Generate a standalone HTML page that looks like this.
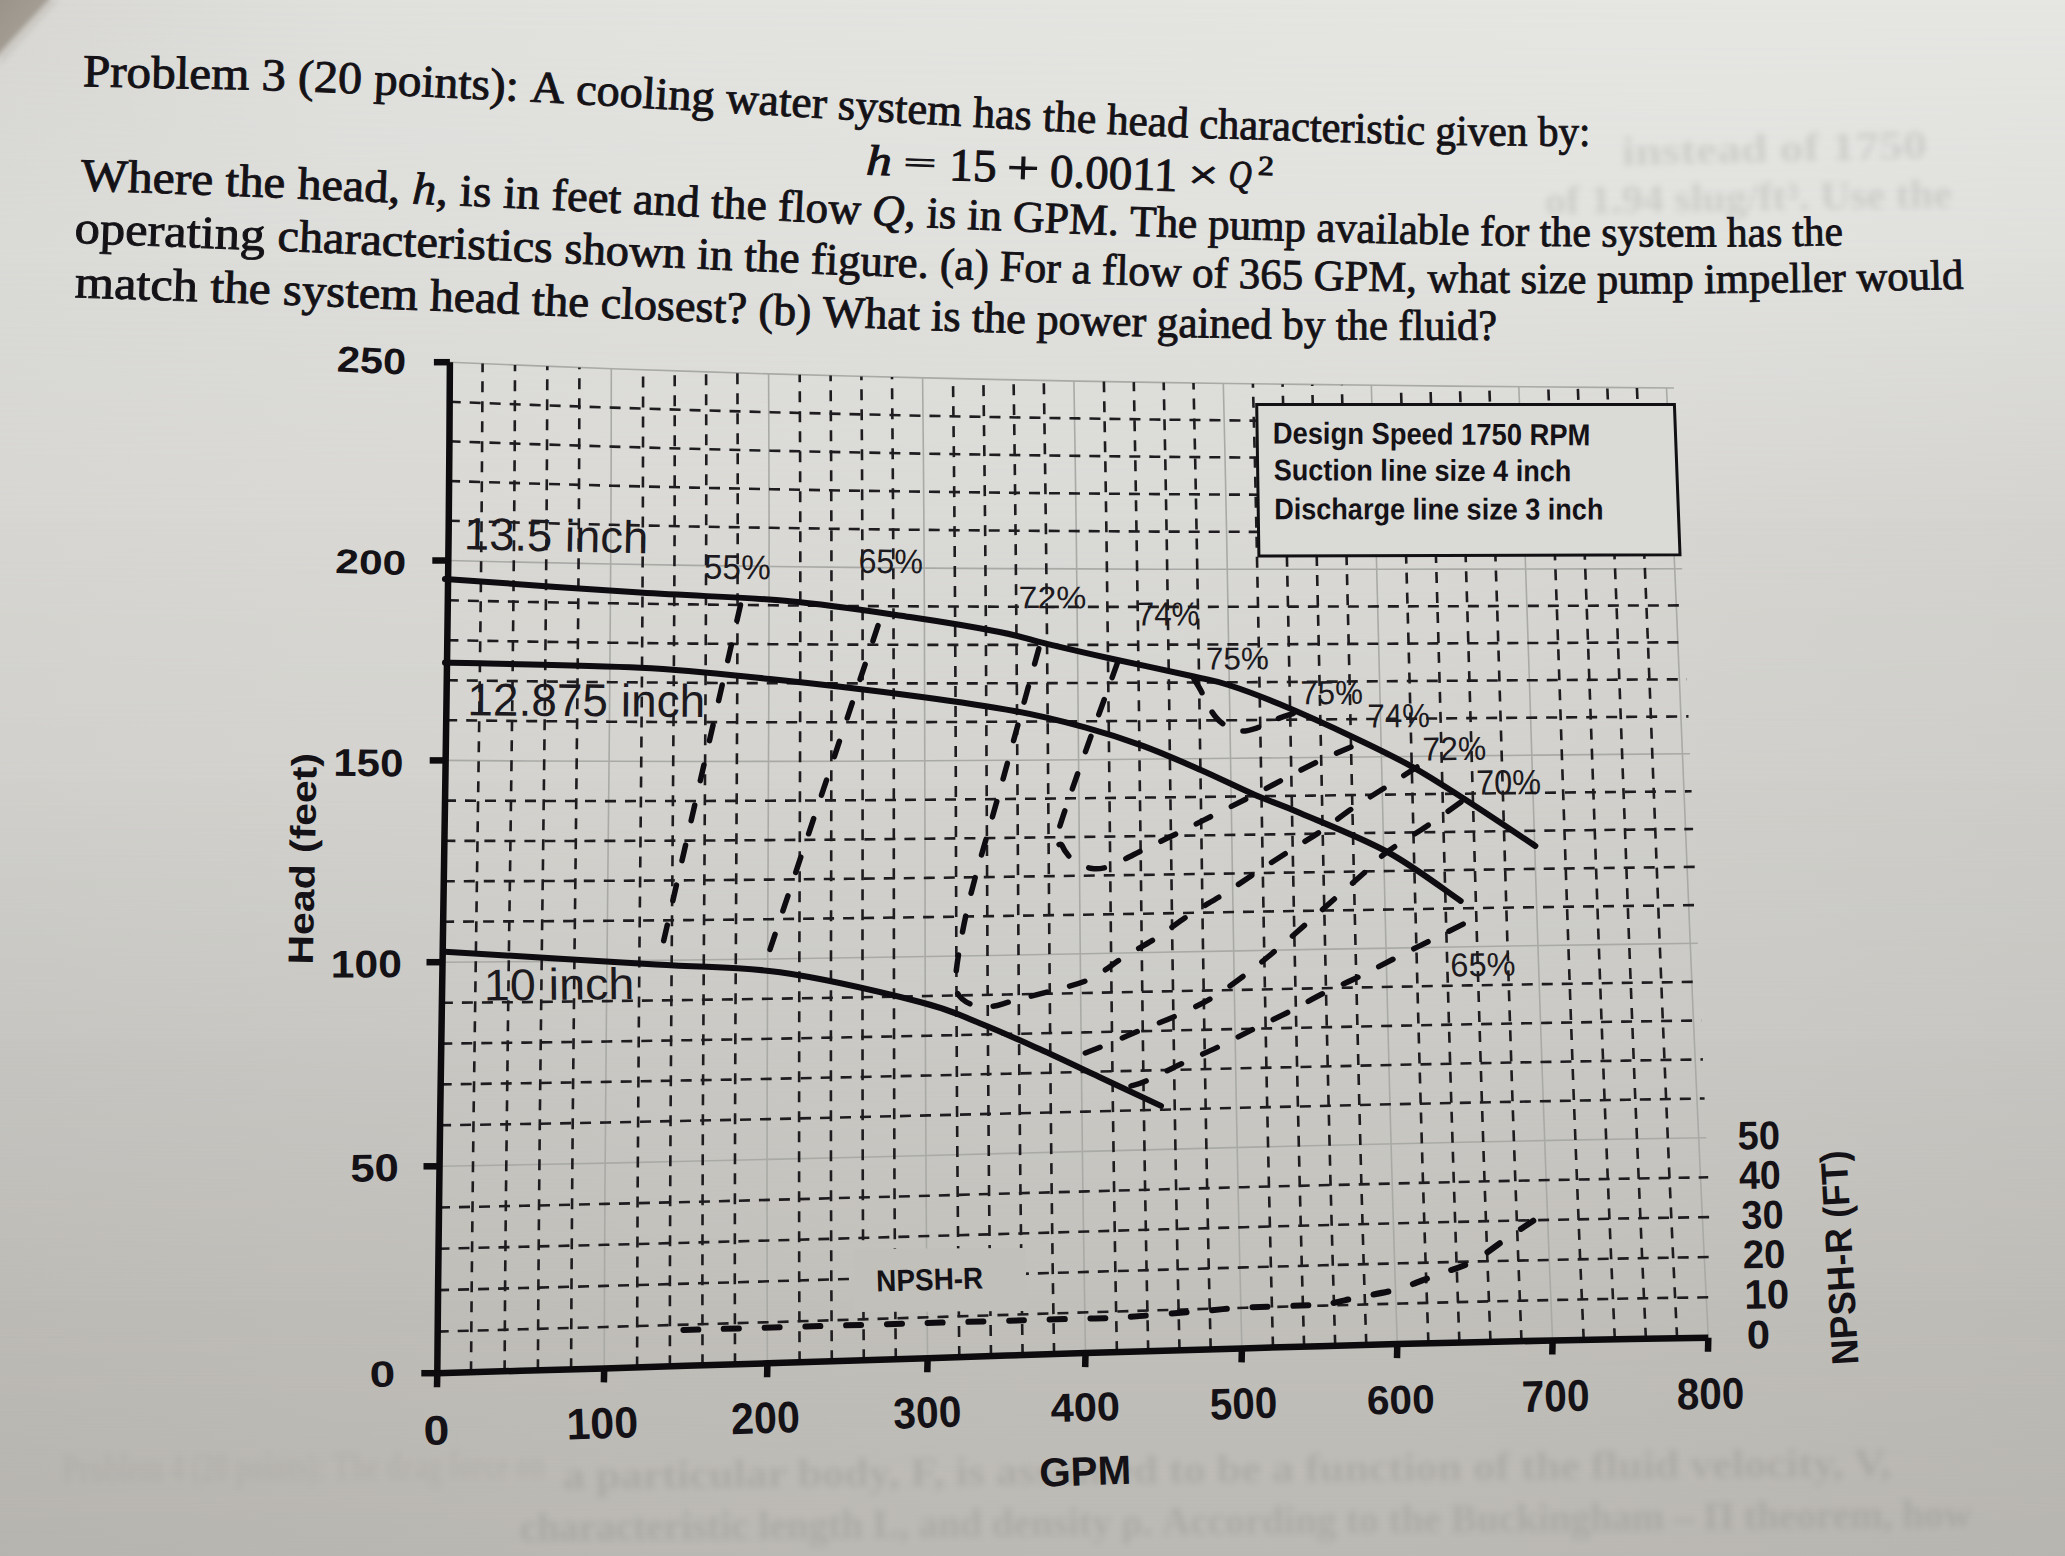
<!DOCTYPE html><html><head><meta charset="utf-8"><style>
html,body{margin:0;padding:0;width:2065px;height:1556px;overflow:hidden;}
body{background:#d8d9d5;position:relative;}
svg{position:absolute;left:0;top:0;}
</style></head><body>
<svg width="2065" height="1556" viewBox="0 0 2065 1556">
<defs>
<linearGradient id="row0" gradientUnits="userSpaceOnUse" x1="0" y1="0" x2="2065" y2="0"><stop offset="0.0000" stop-color="rgb(216,215,211)"/><stop offset="0.1695" stop-color="rgb(224,224,221)"/><stop offset="0.3390" stop-color="rgb(227,227,224)"/><stop offset="0.5085" stop-color="rgb(228,228,225)"/><stop offset="0.6780" stop-color="rgb(229,229,226)"/><stop offset="0.8475" stop-color="rgb(230,230,227)"/><stop offset="1.0000" stop-color="rgb(230,230,227)"/></linearGradient>
<linearGradient id="row1" gradientUnits="userSpaceOnUse" x1="0" y1="0" x2="2065" y2="0"><stop offset="0.0000" stop-color="rgb(218,218,215)"/><stop offset="0.1695" stop-color="rgb(221,221,218)"/><stop offset="0.3390" stop-color="rgb(223,223,220)"/><stop offset="0.5085" stop-color="rgb(224,224,221)"/><stop offset="0.6780" stop-color="rgb(225,225,222)"/><stop offset="0.8475" stop-color="rgb(225,225,222)"/><stop offset="1.0000" stop-color="rgb(223,223,220)"/></linearGradient>
<linearGradient id="row2" gradientUnits="userSpaceOnUse" x1="0" y1="0" x2="2065" y2="0"><stop offset="0.0000" stop-color="rgb(215,214,210)"/><stop offset="0.1695" stop-color="rgb(217,216,212)"/><stop offset="0.3390" stop-color="rgb(218,217,213)"/><stop offset="0.5085" stop-color="rgb(218,218,215)"/><stop offset="0.6780" stop-color="rgb(218,217,213)"/><stop offset="0.8475" stop-color="rgb(214,213,209)"/><stop offset="1.0000" stop-color="rgb(212,211,207)"/></linearGradient>
<linearGradient id="row3" gradientUnits="userSpaceOnUse" x1="0" y1="0" x2="2065" y2="0"><stop offset="0.0000" stop-color="rgb(209,208,204)"/><stop offset="0.1695" stop-color="rgb(211,210,206)"/><stop offset="0.3390" stop-color="rgb(212,211,207)"/><stop offset="0.5085" stop-color="rgb(212,211,207)"/><stop offset="0.6780" stop-color="rgb(211,210,206)"/><stop offset="0.8475" stop-color="rgb(208,207,203)"/><stop offset="1.0000" stop-color="rgb(206,205,201)"/></linearGradient>
<linearGradient id="row4" gradientUnits="userSpaceOnUse" x1="0" y1="0" x2="2065" y2="0"><stop offset="0.0000" stop-color="rgb(198,197,193)"/><stop offset="0.1695" stop-color="rgb(200,199,195)"/><stop offset="0.3390" stop-color="rgb(202,201,197)"/><stop offset="0.5085" stop-color="rgb(203,202,198)"/><stop offset="0.6780" stop-color="rgb(203,202,198)"/><stop offset="0.8475" stop-color="rgb(201,200,196)"/><stop offset="1.0000" stop-color="rgb(199,198,194)"/></linearGradient>
<linearGradient id="row5" gradientUnits="userSpaceOnUse" x1="0" y1="0" x2="2065" y2="0"><stop offset="0.0000" stop-color="rgb(189,187,182)"/><stop offset="0.1695" stop-color="rgb(191,189,184)"/><stop offset="0.3390" stop-color="rgb(193,191,186)"/><stop offset="0.5085" stop-color="rgb(194,192,187)"/><stop offset="0.6780" stop-color="rgb(194,192,187)"/><stop offset="0.8475" stop-color="rgb(192,190,185)"/><stop offset="1.0000" stop-color="rgb(190,188,183)"/></linearGradient>
<linearGradient id="row6" gradientUnits="userSpaceOnUse" x1="0" y1="0" x2="2065" y2="0"><stop offset="0.0000" stop-color="rgb(182,180,175)"/><stop offset="0.1695" stop-color="rgb(184,182,177)"/><stop offset="0.3390" stop-color="rgb(186,184,179)"/><stop offset="0.5085" stop-color="rgb(187,185,180)"/><stop offset="0.6780" stop-color="rgb(187,185,180)"/><stop offset="0.8475" stop-color="rgb(185,183,178)"/><stop offset="1.0000" stop-color="rgb(183,181,176)"/></linearGradient>
<linearGradient id="vmask" x1="0" y1="0" x2="0" y2="1"><stop offset="0" stop-color="#000"/><stop offset="1" stop-color="#fff"/></linearGradient>
<mask id="mk" maskContentUnits="objectBoundingBox"><rect x="0" y="0" width="1" height="1" fill="url(#vmask)"/></mask>
<linearGradient id="corner" x1="0" y1="0" x2="1" y2="1"><stop offset="0" stop-color="#928c83"/><stop offset="0.6" stop-color="#a49e95"/><stop offset="1" stop-color="#b0aaa2"/></linearGradient>
</defs>
<rect x="0" y="0" width="2065" height="261" fill="url(#row0)"/>
<rect x="0" y="0" width="2065" height="261" fill="url(#row1)" mask="url(#mk)"/>
<rect x="0" y="260" width="2065" height="261" fill="url(#row1)"/>
<rect x="0" y="260" width="2065" height="261" fill="url(#row2)" mask="url(#mk)"/>
<rect x="0" y="520" width="2065" height="261" fill="url(#row2)"/>
<rect x="0" y="520" width="2065" height="261" fill="url(#row3)" mask="url(#mk)"/>
<rect x="0" y="780" width="2065" height="261" fill="url(#row3)"/>
<rect x="0" y="780" width="2065" height="261" fill="url(#row4)" mask="url(#mk)"/>
<rect x="0" y="1040" width="2065" height="261" fill="url(#row4)"/>
<rect x="0" y="1040" width="2065" height="261" fill="url(#row5)" mask="url(#mk)"/>
<rect x="0" y="1300" width="2065" height="257" fill="url(#row5)"/>
<rect x="0" y="1300" width="2065" height="257" fill="url(#row6)" mask="url(#mk)"/>
<filter id="cblur" x="-50%" y="-50%" width="200%" height="200%"><feGaussianBlur stdDeviation="2.5"/></filter>
<polygon points="-20,-20 50,-20 50,0 0,54 -20,74" fill="url(#corner)" filter="url(#cblur)"/>
<polygon points="48,0 60,0 0,66 0,53" fill="#c2bdb6" opacity="0.45" filter="url(#cblur)"/>
<defs><filter id="blr" x="-5%" y="-50%" width="110%" height="200%"><feGaussianBlur stdDeviation="3"/></filter></defs>
<g opacity="0.16" filter="url(#blr)" font-weight="bold">
<text font-family="Liberation Serif, serif" font-size="40" font-weight="bold" fill="#5d5e5a"  transform="translate(1622.0,165.0) rotate(-1.315)" textLength="305.1" lengthAdjust="spacingAndGlyphs">instead of 1750</text>
<text font-family="Liberation Serif, serif" font-size="40" font-weight="bold" fill="#5d5e5a"  transform="translate(1545.0,214.0) rotate(-0.985)" textLength="407.1" lengthAdjust="spacingAndGlyphs">of 1.94 slug/ft³. Use the</text>
</g>
<g opacity="0.08" filter="url(#blr)">
<text font-family="Liberation Serif, serif" font-size="40" font-weight="bold" fill="#5d5e5a"  transform="translate(62.0,1482.0) rotate(-0.474)" textLength="483.0" lengthAdjust="spacingAndGlyphs">Problem 4 (20 points): The drag force on</text>
</g>
<g opacity="0.16" filter="url(#blr)">
<text font-family="Liberation Serif, serif" font-size="40" font-weight="bold" fill="#5d5e5a"  transform="translate(563.0,1489.0) rotate(-0.561)" textLength="1328.1" lengthAdjust="spacingAndGlyphs">a particular body, F, is assumed to be a function of the fluid velocity, V,</text>
<text font-family="Liberation Serif, serif" font-size="40" font-weight="bold" fill="#5d5e5a"  transform="translate(520.0,1541.0) rotate(-0.552)" textLength="1452.1" lengthAdjust="spacingAndGlyphs">characteristic length L, and density ρ. According to the Buckingham – Π theorem, how</text>
</g>
<g>
<text font-family="Liberation Serif, serif" font-size="45.0" fill="#141216" stroke="#141216" stroke-width="0.9" transform="translate(82.7,86.3) rotate(1.14) scale(1.0914,1.0209)">Problem</text>
<text font-family="Liberation Serif, serif" font-size="45.0" fill="#141216" stroke="#141216" stroke-width="0.9" transform="translate(261.2,90.0) rotate(1.85) scale(1.0768,1.0119)">3</text>
<text font-family="Liberation Serif, serif" font-size="45.0" fill="#141216" stroke="#141216" stroke-width="0.9" transform="translate(297.5,91.2) rotate(2.17) scale(1.0691,1.0101)">(20</text>
<text font-family="Liberation Serif, serif" font-size="45.0" fill="#141216" stroke="#141216" stroke-width="0.9" transform="translate(373.6,94.1) rotate(2.69) scale(1.0535,1.0063)">points):</text>
<text font-family="Liberation Serif, serif" font-size="45.0" fill="#141216" stroke="#141216" stroke-width="0.9" transform="translate(530.0,101.5) rotate(3.04) scale(1.0402,0.9985)">A</text>
<text font-family="Liberation Serif, serif" font-size="45.0" fill="#141216" stroke="#141216" stroke-width="0.9" transform="translate(575.4,103.9) rotate(3.24) scale(1.0273,0.9962)">cooling</text>
<text font-family="Liberation Serif, serif" font-size="45.0" fill="#141216" stroke="#141216" stroke-width="0.9" transform="translate(725.3,112.4) rotate(3.36) scale(1.0102,0.9887)">water</text>
<text font-family="Liberation Serif, serif" font-size="45.0" fill="#141216" stroke="#141216" stroke-width="0.9" transform="translate(837.3,119.0) rotate(3.28) scale(0.9942,0.9831)">system</text>
<text font-family="Liberation Serif, serif" font-size="45.0" fill="#141216" stroke="#141216" stroke-width="0.9" transform="translate(972.4,126.7) rotate(3.09) scale(0.9811,0.9764)">has</text>
<text font-family="Liberation Serif, serif" font-size="45.0" fill="#141216" stroke="#141216" stroke-width="0.9" transform="translate(1042.2,130.5) rotate(2.90) scale(0.9726,0.9729)">the</text>
<text font-family="Liberation Serif, serif" font-size="45.0" fill="#141216" stroke="#141216" stroke-width="0.9" transform="translate(1106.4,133.7) rotate(2.60) scale(0.9628,0.9697)">head</text>
<text font-family="Liberation Serif, serif" font-size="45.0" fill="#141216" stroke="#141216" stroke-width="0.9" transform="translate(1198.9,137.8) rotate(1.73) scale(0.9427,0.9651)">characteristic</text>
<text font-family="Liberation Serif, serif" font-size="45.0" fill="#141216" stroke="#141216" stroke-width="0.9" transform="translate(1435.3,144.9) rotate(0.55) scale(0.9230,0.9532)">given</text>
<text font-family="Liberation Serif, serif" font-size="45.0" fill="#141216" stroke="#141216" stroke-width="0.9" transform="translate(1537.9,145.8) rotate(-0.15) scale(0.9139,0.9481)">by:</text>
<text font-family="Liberation Serif, serif" font-size="45.0" fill="#141216" stroke="#141216" stroke-width="0.9" transform="translate(80.6,190.3) rotate(2.05) scale(1.1034,1.0210)">Where</text>
<text font-family="Liberation Serif, serif" font-size="45.0" fill="#141216" stroke="#141216" stroke-width="0.9" transform="translate(225.1,195.5) rotate(2.30) scale(1.0861,1.0137)">the</text>
<text font-family="Liberation Serif, serif" font-size="45.0" fill="#141216" stroke="#141216" stroke-width="0.9" transform="translate(296.9,198.4) rotate(2.48) scale(1.0715,1.0102)">head,</text>
<text font-family="Liberation Serif, serif" font-size="45.0" font-style="italic" fill="#141216" stroke="#141216" stroke-width="0.9" transform="translate(411.8,203.4) rotate(2.58) scale(1.0601,1.0044)">h</text>
<text font-family="Liberation Serif, serif" font-size="45.0" fill="#141216" stroke="#141216" stroke-width="0.9" transform="translate(435.6,204.4) rotate(2.60) scale(1.0574,1.0032)">,</text>
<text font-family="Liberation Serif, serif" font-size="45.0" fill="#141216" stroke="#141216" stroke-width="0.9" transform="translate(459.3,205.5) rotate(2.64) scale(1.0524,1.0020)">is</text>
<text font-family="Liberation Serif, serif" font-size="45.0" fill="#141216" stroke="#141216" stroke-width="0.9" transform="translate(502.7,207.5) rotate(2.67) scale(1.0457,0.9999)">in</text>
<text font-family="Liberation Serif, serif" font-size="45.0" fill="#141216" stroke="#141216" stroke-width="0.9" transform="translate(551.0,209.8) rotate(2.71) scale(1.0364,0.9975)">feet</text>
<text font-family="Liberation Serif, serif" font-size="45.0" fill="#141216" stroke="#141216" stroke-width="0.9" transform="translate(632.4,213.6) rotate(2.72) scale(1.0253,0.9934)">and</text>
<text font-family="Liberation Serif, serif" font-size="45.0" fill="#141216" stroke="#141216" stroke-width="0.9" transform="translate(710.4,217.3) rotate(2.70) scale(1.0155,0.9895)">the</text>
<text font-family="Liberation Serif, serif" font-size="45.0" fill="#141216" stroke="#141216" stroke-width="0.9" transform="translate(777.5,220.5) rotate(2.64) scale(1.0050,0.9861)">flow</text>
<text font-family="Liberation Serif, serif" font-size="45.0" font-style="italic" fill="#141216" stroke="#141216" stroke-width="0.9" transform="translate(871.5,224.8) rotate(2.57) scale(0.9963,0.9814)">Q</text>
<text font-family="Liberation Serif, serif" font-size="45.0" fill="#141216" stroke="#141216" stroke-width="0.9" transform="translate(903.9,226.3) rotate(2.54) scale(0.9937,0.9798)">,</text>
<text font-family="Liberation Serif, serif" font-size="45.0" fill="#141216" stroke="#141216" stroke-width="0.9" transform="translate(926.2,227.3) rotate(2.50) scale(0.9899,0.9787)">is</text>
<text font-family="Liberation Serif, serif" font-size="45.0" fill="#141216" stroke="#141216" stroke-width="0.9" transform="translate(967.0,229.0) rotate(2.43) scale(0.9848,0.9767)">in</text>
<text font-family="Liberation Serif, serif" font-size="45.0" fill="#141216" stroke="#141216" stroke-width="0.9" transform="translate(1012.4,231.0) rotate(2.27) scale(0.9755,0.9744)">GPM.</text>
<text font-family="Liberation Serif, serif" font-size="45.0" fill="#141216" stroke="#141216" stroke-width="0.9" transform="translate(1129.4,235.6) rotate(2.03) scale(0.9651,0.9685)">The</text>
<text font-family="Liberation Serif, serif" font-size="45.0" fill="#141216" stroke="#141216" stroke-width="0.9" transform="translate(1207.7,238.3) rotate(1.75) scale(0.9558,0.9646)">pump</text>
<text font-family="Liberation Serif, serif" font-size="45.0" fill="#141216" stroke="#141216" stroke-width="0.9" transform="translate(1316.3,241.6) rotate(1.27) scale(0.9436,0.9592)">available</text>
<text font-family="Liberation Serif, serif" font-size="45.0" fill="#141216" stroke="#141216" stroke-width="0.9" transform="translate(1480.0,245.2) rotate(0.80) scale(0.9348,0.9510)">for</text>
<text font-family="Liberation Serif, serif" font-size="45.0" fill="#141216" stroke="#141216" stroke-width="0.9" transform="translate(1539.6,246.0) rotate(0.52) scale(0.9305,0.9480)">the</text>
<text font-family="Liberation Serif, serif" font-size="45.0" fill="#141216" stroke="#141216" stroke-width="0.9" transform="translate(1601.2,246.5) rotate(0.04) scale(0.9246,0.9449)">system</text>
<text font-family="Liberation Serif, serif" font-size="45.0" fill="#141216" stroke="#141216" stroke-width="0.9" transform="translate(1727.1,246.6) rotate(-0.48) scale(0.9195,0.9386)">has</text>
<text font-family="Liberation Serif, serif" font-size="45.0" fill="#141216" stroke="#141216" stroke-width="0.9" transform="translate(1792.6,246.0) rotate(-0.86) scale(0.9167,0.9354)">the</text>
<text font-family="Liberation Serif, serif" font-size="45.0" fill="#141216" stroke="#141216" stroke-width="0.9" transform="translate(74.2,242.8) rotate(2.21) scale(1.1218,1.0213)">operating</text>
<text font-family="Liberation Serif, serif" font-size="45.0" fill="#141216" stroke="#141216" stroke-width="0.9" transform="translate(277.1,250.6) rotate(2.45) scale(1.0707,1.0111)">characteristics</text>
<text font-family="Liberation Serif, serif" font-size="45.0" fill="#141216" stroke="#141216" stroke-width="0.9" transform="translate(564.1,262.9) rotate(2.47) scale(1.0321,0.9968)">shown</text>
<text font-family="Liberation Serif, serif" font-size="45.0" fill="#141216" stroke="#141216" stroke-width="0.9" transform="translate(696.7,268.6) rotate(2.42) scale(1.0173,0.9902)">in</text>
<text font-family="Liberation Serif, serif" font-size="45.0" fill="#141216" stroke="#141216" stroke-width="0.9" transform="translate(743.7,270.6) rotate(2.37) scale(1.0086,0.9878)">the</text>
<text font-family="Liberation Serif, serif" font-size="45.0" fill="#141216" stroke="#141216" stroke-width="0.9" transform="translate(810.4,273.4) rotate(2.25) scale(0.9946,0.9845)">figure.</text>
<text font-family="Liberation Serif, serif" font-size="45.0" fill="#141216" stroke="#141216" stroke-width="0.9" transform="translate(939.4,278.4) rotate(2.11) scale(0.9825,0.9780)">(a)</text>
<text font-family="Liberation Serif, serif" font-size="45.0" fill="#141216" stroke="#141216" stroke-width="0.9" transform="translate(999.5,280.6) rotate(1.98) scale(0.9749,0.9750)">For</text>
<text font-family="Liberation Serif, serif" font-size="45.0" fill="#141216" stroke="#141216" stroke-width="0.9" transform="translate(1071.3,283.1) rotate(1.87) scale(0.9696,0.9714)">a</text>
<text font-family="Liberation Serif, serif" font-size="45.0" fill="#141216" stroke="#141216" stroke-width="0.9" transform="translate(1101.6,284.1) rotate(1.73) scale(0.9638,0.9699)">flow</text>
<text font-family="Liberation Serif, serif" font-size="45.0" fill="#141216" stroke="#141216" stroke-width="0.9" transform="translate(1191.8,286.8) rotate(1.54) scale(0.9581,0.9654)">of</text>
<text font-family="Liberation Serif, serif" font-size="45.0" fill="#141216" stroke="#141216" stroke-width="0.9" transform="translate(1238.5,288.0) rotate(1.37) scale(0.9537,0.9631)">365</text>
<text font-family="Liberation Serif, serif" font-size="45.0" fill="#141216" stroke="#141216" stroke-width="0.9" transform="translate(1313.5,289.8) rotate(1.06) scale(0.9483,0.9593)">GPM,</text>
<text font-family="Liberation Serif, serif" font-size="45.0" fill="#141216" stroke="#141216" stroke-width="0.9" transform="translate(1427.3,291.9) rotate(0.68) scale(0.9443,0.9536)">what</text>
<text font-family="Liberation Serif, serif" font-size="45.0" fill="#141216" stroke="#141216" stroke-width="0.9" transform="translate(1520.5,292.9) rotate(0.34) scale(0.9426,0.9490)">size</text>
<text font-family="Liberation Serif, serif" font-size="45.0" fill="#141216" stroke="#141216" stroke-width="0.9" transform="translate(1597.1,293.4) rotate(-0.07) scale(0.9425,0.9451)">pump</text>
<text font-family="Liberation Serif, serif" font-size="45.0" fill="#141216" stroke="#141216" stroke-width="0.9" transform="translate(1704.3,293.2) rotate(-0.70) scale(0.9451,0.9398)">impeller</text>
<text font-family="Liberation Serif, serif" font-size="45.0" fill="#141216" stroke="#141216" stroke-width="0.9" transform="translate(1856.7,291.3) rotate(-1.43) scale(0.9513,0.9322)">would</text>
<text font-family="Liberation Serif, serif" font-size="45.0" fill="#141216" stroke="#141216" stroke-width="0.9" transform="translate(74.5,297.2) rotate(1.91) scale(1.1189,1.0213)">match</text>
<text font-family="Liberation Serif, serif" font-size="45.0" fill="#141216" stroke="#141216" stroke-width="0.9" transform="translate(209.9,301.7) rotate(2.13) scale(1.0997,1.0145)">the</text>
<text font-family="Liberation Serif, serif" font-size="45.0" fill="#141216" stroke="#141216" stroke-width="0.9" transform="translate(282.6,304.5) rotate(2.29) scale(1.0802,1.0109)">system</text>
<text font-family="Liberation Serif, serif" font-size="45.0" fill="#141216" stroke="#141216" stroke-width="0.9" transform="translate(429.5,310.3) rotate(2.38) scale(1.0590,1.0035)">head</text>
<text font-family="Liberation Serif, serif" font-size="45.0" fill="#141216" stroke="#141216" stroke-width="0.9" transform="translate(531.2,314.6) rotate(2.39) scale(1.0450,0.9984)">the</text>
<text font-family="Liberation Serif, serif" font-size="45.0" fill="#141216" stroke="#141216" stroke-width="0.9" transform="translate(600.2,317.4) rotate(2.33) scale(1.0274,0.9950)">closest?</text>
<text font-family="Liberation Serif, serif" font-size="45.0" fill="#141216" stroke="#141216" stroke-width="0.9" transform="translate(757.9,323.9) rotate(2.21) scale(1.0111,0.9871)">(b)</text>
<text font-family="Liberation Serif, serif" font-size="45.0" fill="#141216" stroke="#141216" stroke-width="0.9" transform="translate(822.2,326.3) rotate(2.06) scale(0.9991,0.9839)">What</text>
<text font-family="Liberation Serif, serif" font-size="45.0" fill="#141216" stroke="#141216" stroke-width="0.9" transform="translate(930.7,330.2) rotate(1.90) scale(0.9894,0.9785)">is</text>
<text font-family="Liberation Serif, serif" font-size="45.0" fill="#141216" stroke="#141216" stroke-width="0.9" transform="translate(971.4,331.6) rotate(1.77) scale(0.9828,0.9764)">the</text>
<text font-family="Liberation Serif, serif" font-size="45.0" fill="#141216" stroke="#141216" stroke-width="0.9" transform="translate(1036.5,333.5) rotate(1.49) scale(0.9720,0.9732)">power</text>
<text font-family="Liberation Serif, serif" font-size="45.0" fill="#141216" stroke="#141216" stroke-width="0.9" transform="translate(1156.6,336.6) rotate(1.04) scale(0.9591,0.9672)">gained</text>
<text font-family="Liberation Serif, serif" font-size="45.0" fill="#141216" stroke="#141216" stroke-width="0.9" transform="translate(1282.3,338.8) rotate(0.66) scale(0.9508,0.9609)">by</text>
<text font-family="Liberation Serif, serif" font-size="45.0" fill="#141216" stroke="#141216" stroke-width="0.9" transform="translate(1335.8,339.4) rotate(0.38) scale(0.9459,0.9582)">the</text>
<text font-family="Liberation Serif, serif" font-size="45.0" fill="#141216" stroke="#141216" stroke-width="0.9" transform="translate(1398.4,339.8) rotate(-0.06) scale(0.9396,0.9551)">fluid?</text>
<text font-family="Liberation Serif, serif" font-size="42.88" font-style="italic" fill="#141216" stroke="#141216" stroke-width="1.0" transform="translate(865.8,174.6) rotate(2.0) scale(1.1963,1)">h</text>
<text font-family="Liberation Serif, serif" font-size="28.13" fill="#141216" stroke="#141216" stroke-width="1.0" transform="translate(903.6,171.4) rotate(2.0) scale(2.0334,1)">=</text>
<text font-family="Liberation Serif, serif" font-size="46.06" fill="#141216" stroke="#141216" stroke-width="1.0" transform="translate(948.8,180.0) rotate(2.0) scale(1.0322,1)">15</text>
<text font-family="Liberation Serif, serif" font-size="47.08" fill="#141216" stroke="#141216" stroke-width="1.0" transform="translate(1006.4,183.1) rotate(2.0) scale(1.2151,1)">+</text>
<text font-family="Liberation Serif, serif" font-size="46.92" fill="#141216" stroke="#141216" stroke-width="1.0" transform="translate(1049.6,186.5) rotate(2.0) scale(1.0017,1)">0.0011</text>
<text font-family="Liberation Serif, serif" font-size="40.75" fill="#141216" stroke="#141216" stroke-width="1.0" transform="translate(1187.7,188.0) rotate(2.0) scale(1.3149,1)">×</text>
<text font-family="Liberation Serif, serif" font-size="38.64" font-style="italic" fill="#141216" stroke="#141216" stroke-width="1.0" transform="translate(1228.2,186.8) rotate(2.0) scale(0.8243,1)">Q</text>
<text font-family="Liberation Serif, serif" font-size="27.58" fill="#141216" stroke="#141216" stroke-width="1.0" transform="translate(1257.7,174.7) rotate(2.0) scale(1.1514,1)">2</text>
</g>
<g fill="none">
<polyline points="604.2,1368.4 604.5,1282.5 604.9,1197.1 605.6,1112.3 606.3,1028.0 607.2,944.2 608.0,860.8 608.9,777.9 609.7,695.3 610.3,613.2 610.9,531.3 611.2,449.8 611.3,368.7" stroke="#a9aaa6" stroke-width="1.6"/>
<polyline points="767.4,1363.3 767.1,1277.9 767.0,1193.2 767.1,1109.1 767.4,1025.5 767.7,942.4 768.1,859.9 768.4,777.8 768.8,696.2 769.0,615.0 769.1,534.2 768.9,453.9 768.6,373.8" stroke="#a9aaa6" stroke-width="1.6"/>
<polyline points="927.6,1358.2 926.7,1273.3 926.1,1189.0 925.7,1105.5 925.3,1022.5 925.1,940.1 925.0,858.3 924.8,777.0 924.6,696.3 924.4,616.0 924.0,536.2 923.4,456.8 922.6,377.9" stroke="#a9aaa6" stroke-width="1.6"/>
<polyline points="1085.5,1353.1 1084.1,1268.6 1082.8,1184.8 1081.8,1101.7 1080.9,1019.3 1080.1,937.5 1079.4,856.4 1078.7,775.8 1078.0,695.8 1077.2,616.3 1076.3,537.4 1075.2,459.0 1073.9,381.0" stroke="#a9aaa6" stroke-width="1.6"/>
<polyline points="1241.9,1348.4 1239.8,1264.2 1237.9,1180.7 1236.2,1098.0 1234.8,1016.0 1233.4,934.8 1232.1,854.2 1230.8,774.2 1229.5,694.9 1228.1,616.2 1226.7,538.1 1225.1,460.5 1223.3,383.4" stroke="#a9aaa6" stroke-width="1.6"/>
<polyline points="1397.3,1344.1 1394.5,1260.1 1392.0,1176.9 1389.7,1094.5 1387.6,1012.9 1385.6,932.1 1383.7,851.9 1381.8,772.5 1379.9,693.8 1377.9,615.7 1375.9,538.3 1373.7,461.5 1371.3,385.2" stroke="#a9aaa6" stroke-width="1.6"/>
<polyline points="1552.6,1340.5 1549.1,1256.6 1545.9,1173.5 1542.9,1091.4 1540.1,1010.1 1537.4,929.6 1534.8,849.8 1532.3,770.9 1529.8,692.7 1527.2,615.2 1524.6,538.4 1521.8,462.2 1518.8,386.7" stroke="#a9aaa6" stroke-width="1.6"/>
<polyline points="1708.3,1337.7 1704.1,1253.8 1700.2,1170.9 1696.5,1088.8 1692.9,1007.7 1689.6,927.5 1686.3,848.0 1683.1,769.5 1679.9,691.7 1676.7,614.6 1673.4,538.4 1670.0,462.8 1666.5,387.9" stroke="#a9aaa6" stroke-width="1.6"/>
<polyline points="439.5,1166.3 523.4,1164.8 606.2,1163.1 688.1,1161.3 769.1,1159.4 849.3,1157.5 928.9,1155.5 1007.8,1153.4 1086.3,1151.4 1164.3,1149.4 1242.0,1147.4 1319.5,1145.5 1396.8,1143.7 1474.1,1142.0 1551.4,1140.4 1628.8,1139.0 1706.4,1137.8" stroke="#a9aaa6" stroke-width="1.6"/>
<polyline points="442.5,962.2 525.8,961.6 608.0,960.9 689.3,960.0 769.6,959.0 849.2,957.8 928.1,956.5 1006.4,955.2 1084.1,953.7 1161.5,952.3 1238.4,950.9 1315.1,949.4 1391.7,948.1 1468.1,946.7 1544.6,945.5 1621.1,944.4 1697.9,943.3" stroke="#a9aaa6" stroke-width="1.6"/>
<polyline points="445.7,760.4 528.4,761.0 610.0,761.3 690.7,761.5 770.5,761.4 849.5,761.2 927.7,760.8 1005.3,760.3 1082.4,759.7 1159.0,759.0 1235.3,758.3 1311.2,757.5 1387.0,756.7 1462.7,755.9 1538.4,755.1 1614.1,754.4 1690.0,753.8" stroke="#a9aaa6" stroke-width="1.6"/>
<polyline points="448.3,560.5 530.5,562.4 611.7,564.0 691.8,565.4 771.0,566.5 849.4,567.4 927.0,568.1 1004.0,568.6 1080.4,568.9 1156.4,569.2 1232.0,569.3 1307.2,569.3 1382.3,569.2 1457.3,569.1 1532.2,569.0 1607.1,568.9 1682.2,568.8" stroke="#a9aaa6" stroke-width="1.6"/>
<polyline points="449.9,362.2 531.7,365.6 612.3,368.7 691.9,371.4 770.6,373.9 848.4,376.0 925.4,377.9 1001.8,379.6 1077.7,381.1 1153.0,382.4 1227.9,383.5 1302.5,384.4 1376.9,385.3 1451.1,386.1 1525.3,386.7 1599.5,387.4 1673.9,388.0" stroke="#a9aaa6" stroke-width="1.6"/>
<polyline points="471.0,1372.2 471.7,1285.8 472.6,1200.0 473.6,1114.6 474.8,1029.6 476.0,945.1 477.2,861.0 478.4,777.3 479.6,694.0 480.6,610.9 481.5,528.2 482.1,445.8 482.6,363.6" stroke="#1e1c1f" stroke-width="2.6" stroke-dasharray="11 9"/>
<polyline points="504.6,1371.3 505.1,1285.0 505.9,1199.3 506.9,1114.0 507.9,1029.3 509.0,944.9 510.2,861.0 511.3,777.5 512.4,694.4 513.3,611.6 514.1,529.1 514.7,446.9 515.0,365.0" stroke="#1e1c1f" stroke-width="2.6" stroke-dasharray="11 9"/>
<polyline points="537.9,1370.3 538.4,1284.2 539.1,1198.6 539.9,1113.5 540.9,1028.9 541.9,944.7 543.0,861.0 544.0,777.7 545.0,694.7 545.8,612.1 546.5,529.9 547.0,447.9 547.3,366.2" stroke="#1e1c1f" stroke-width="2.6" stroke-dasharray="11 9"/>
<polyline points="571.1,1369.3 571.5,1283.3 572.1,1197.9 572.8,1112.9 573.7,1028.5 574.6,944.5 575.6,860.9 576.5,777.8 577.4,695.0 578.2,612.7 578.8,530.6 579.2,448.9 579.4,367.5" stroke="#1e1c1f" stroke-width="2.6" stroke-dasharray="11 9"/>
<polyline points="637.1,1367.4 637.3,1281.6 637.6,1196.4 638.2,1111.7 638.8,1027.6 639.5,943.9 640.3,860.7 641.1,777.9 641.8,695.6 642.4,613.6 642.8,532.0 643.0,450.7 643.1,369.8" stroke="#1e1c1f" stroke-width="2.6" stroke-dasharray="11 9"/>
<polyline points="669.9,1366.3 669.9,1280.7 670.2,1195.6 670.6,1111.1 671.2,1027.1 671.8,943.6 672.5,860.5 673.1,777.9 673.7,695.8 674.2,614.0 674.6,532.6 674.7,451.6 674.7,370.9" stroke="#1e1c1f" stroke-width="2.6" stroke-dasharray="11 9"/>
<polyline points="702.5,1365.3 702.4,1279.8 702.6,1194.8 702.9,1110.4 703.4,1026.5 703.9,943.2 704.5,860.3 705.0,777.9 705.5,695.9 705.9,614.4 706.2,533.2 706.3,452.4 706.1,371.9" stroke="#1e1c1f" stroke-width="2.6" stroke-dasharray="11 9"/>
<polyline points="735.0,1364.3 734.8,1278.9 734.9,1194.0 735.1,1109.7 735.4,1026.0 735.9,942.8 736.3,860.1 736.8,777.9 737.2,696.1 737.5,614.7 737.7,533.7 737.7,453.1 737.4,372.9" stroke="#1e1c1f" stroke-width="2.6" stroke-dasharray="11 9"/>
<polyline points="799.6,1362.3 799.2,1277.0 799.1,1192.4 799.1,1108.4 799.2,1024.9 799.4,942.0 799.7,859.6 800.0,777.7 800.2,696.3 800.3,615.3 800.3,534.7 800.1,454.5 799.7,374.7" stroke="#1e1c1f" stroke-width="2.6" stroke-dasharray="11 9"/>
<polyline points="831.8,1361.2 831.3,1276.1 831.0,1191.6 830.9,1107.7 830.9,1024.3 831.0,941.5 831.2,859.3 831.3,777.6 831.5,696.3 831.5,615.5 831.4,535.1 831.1,455.2 830.6,375.6" stroke="#1e1c1f" stroke-width="2.6" stroke-dasharray="11 9"/>
<polyline points="863.8,1360.2 863.2,1275.1 862.8,1190.7 862.6,1106.9 862.5,1023.7 862.5,941.1 862.6,859.0 862.6,777.4 862.6,696.3 862.6,615.7 862.3,535.5 862.0,455.8 861.4,376.4" stroke="#1e1c1f" stroke-width="2.6" stroke-dasharray="11 9"/>
<polyline points="895.8,1359.2 895.0,1274.2 894.5,1189.9 894.2,1106.2 894.0,1023.1 893.9,940.6 893.8,858.7 893.8,777.2 893.7,696.3 893.5,615.9 893.2,535.9 892.7,456.3 892.0,377.1" stroke="#1e1c1f" stroke-width="2.6" stroke-dasharray="11 9"/>
<polyline points="959.3,1357.1 958.4,1272.3 957.6,1188.2 957.0,1104.7 956.6,1021.9 956.3,939.6 956.0,857.9 955.8,776.8 955.5,696.2 955.1,616.1 954.6,536.5 953.9,457.3 953.0,378.6" stroke="#1e1c1f" stroke-width="2.6" stroke-dasharray="11 9"/>
<polyline points="991.0,1356.1 989.9,1271.4 989.0,1187.4 988.4,1104.0 987.8,1021.2 987.4,939.1 987.0,857.6 986.6,776.6 986.2,696.1 985.8,616.2 985.2,536.8 984.4,457.8 983.4,379.2" stroke="#1e1c1f" stroke-width="2.6" stroke-dasharray="11 9"/>
<polyline points="1022.6,1355.1 1021.4,1270.5 1020.4,1186.5 1019.6,1103.2 1018.9,1020.6 1018.4,938.6 1017.9,857.2 1017.4,776.3 1016.9,696.0 1016.3,616.3 1015.6,537.0 1014.7,458.2 1013.6,379.9" stroke="#1e1c1f" stroke-width="2.6" stroke-dasharray="11 9"/>
<polyline points="1054.1,1354.1 1052.7,1269.5 1051.6,1185.7 1050.7,1102.5 1050.0,1019.9 1049.3,938.1 1048.7,856.8 1048.1,776.1 1047.5,695.9 1046.8,616.3 1046.0,537.2 1045.0,458.6 1043.8,380.5" stroke="#1e1c1f" stroke-width="2.6" stroke-dasharray="11 9"/>
<polyline points="1116.9,1352.1 1115.3,1267.7 1114.0,1184.0 1112.8,1101.0 1111.8,1018.6 1110.9,937.0 1110.1,855.9 1109.3,775.5 1108.4,695.6 1107.5,616.4 1106.5,537.6 1105.3,459.3 1103.9,381.6" stroke="#1e1c1f" stroke-width="2.6" stroke-dasharray="11 9"/>
<polyline points="1148.2,1351.2 1146.5,1266.8 1145.0,1183.1 1143.7,1100.2 1142.6,1018.0 1141.6,936.4 1140.7,855.5 1139.7,775.2 1138.8,695.5 1137.8,616.3 1136.6,537.7 1135.3,459.6 1133.8,382.1" stroke="#1e1c1f" stroke-width="2.6" stroke-dasharray="11 9"/>
<polyline points="1179.5,1350.2 1177.6,1265.9 1176.0,1182.3 1174.6,1099.5 1173.4,1017.3 1172.2,935.9 1171.2,855.1 1170.1,774.9 1169.1,695.3 1167.9,616.3 1166.7,537.9 1165.3,459.9 1163.7,382.5" stroke="#1e1c1f" stroke-width="2.6" stroke-dasharray="11 9"/>
<polyline points="1210.7,1349.3 1208.7,1265.0 1207.0,1181.5 1205.5,1098.7 1204.1,1016.7 1202.8,935.3 1201.7,854.6 1200.5,774.6 1199.3,695.1 1198.1,616.3 1196.7,538.0 1195.2,460.2 1193.5,383.0" stroke="#1e1c1f" stroke-width="2.6" stroke-dasharray="11 9"/>
<polyline points="1273.0,1347.5 1270.8,1263.3 1268.8,1179.9 1267.0,1097.3 1265.4,1015.4 1263.9,934.2 1262.5,853.7 1261.1,773.9 1259.7,694.7 1258.2,616.1 1256.6,538.1 1254.9,460.7 1252.9,383.8" stroke="#1e1c1f" stroke-width="2.6" stroke-dasharray="11 9"/>
<polyline points="1304.1,1346.6 1301.7,1262.5 1299.6,1179.1 1297.7,1096.6 1296.0,1014.8 1294.3,933.7 1292.8,853.3 1291.3,773.6 1289.8,694.5 1288.2,616.0 1286.5,538.2 1284.6,460.9 1282.6,384.2" stroke="#1e1c1f" stroke-width="2.6" stroke-dasharray="11 9"/>
<polyline points="1335.2,1345.7 1332.7,1261.7 1330.4,1178.4 1328.4,1095.9 1326.5,1014.1 1324.8,933.1 1323.1,852.8 1321.5,773.2 1319.8,694.3 1318.1,616.0 1316.3,538.2 1314.4,461.1 1312.2,384.6" stroke="#1e1c1f" stroke-width="2.6" stroke-dasharray="11 9"/>
<polyline points="1366.3,1344.9 1363.6,1260.9 1361.2,1177.6 1359.1,1095.2 1357.1,1013.5 1355.2,932.6 1353.4,852.4 1351.6,772.9 1349.9,694.0 1348.0,615.9 1346.1,538.3 1344.0,461.3 1341.8,384.9" stroke="#1e1c1f" stroke-width="2.6" stroke-dasharray="11 9"/>
<polyline points="1428.4,1343.3 1425.5,1259.3 1422.8,1176.2 1420.4,1093.8 1418.1,1012.3 1416.0,931.5 1413.9,851.5 1411.9,772.2 1409.9,693.6 1407.8,615.6 1405.6,538.3 1403.3,461.6 1400.9,385.6" stroke="#1e1c1f" stroke-width="2.6" stroke-dasharray="11 9"/>
<polyline points="1459.4,1342.6 1456.4,1258.6 1453.6,1175.5 1451.0,1093.2 1448.6,1011.7 1446.3,931.0 1444.1,851.1 1442.0,771.9 1439.9,693.3 1437.7,615.5 1435.4,538.3 1433.0,461.8 1430.4,385.9" stroke="#1e1c1f" stroke-width="2.6" stroke-dasharray="11 9"/>
<polyline points="1490.5,1341.8 1487.3,1257.9 1484.3,1174.8 1481.6,1092.6 1479.1,1011.1 1476.7,930.5 1474.4,850.6 1472.1,771.5 1469.8,693.1 1467.5,615.4 1465.1,538.3 1462.6,461.9 1459.9,386.1" stroke="#1e1c1f" stroke-width="2.6" stroke-dasharray="11 9"/>
<polyline points="1521.5,1341.1 1518.2,1257.2 1515.1,1174.2 1512.2,1092.0 1509.6,1010.6 1507.0,930.0 1504.6,850.2 1502.2,771.2 1499.8,692.9 1497.4,615.3 1494.8,538.4 1492.2,462.1 1489.3,386.4" stroke="#1e1c1f" stroke-width="2.6" stroke-dasharray="11 9"/>
<polyline points="1583.7,1339.8 1580.0,1255.9 1576.7,1172.9 1573.5,1090.8 1570.6,1009.5 1567.8,929.1 1565.1,849.4 1562.4,770.6 1559.8,692.5 1557.1,615.1 1554.3,538.4 1551.4,462.3 1548.3,386.9" stroke="#1e1c1f" stroke-width="2.6" stroke-dasharray="11 9"/>
<polyline points="1614.8,1339.2 1611.0,1255.4 1607.5,1172.4 1604.2,1090.3 1601.1,1009.1 1598.2,928.7 1595.4,849.1 1592.6,770.3 1589.8,692.2 1587.0,614.9 1584.1,538.3 1581.0,462.4 1577.8,387.2" stroke="#1e1c1f" stroke-width="2.6" stroke-dasharray="11 9"/>
<polyline points="1645.9,1338.7 1642.0,1254.8 1638.4,1171.8 1634.9,1089.8 1631.7,1008.6 1628.6,928.2 1625.7,848.7 1622.7,770.0 1619.8,692.0 1616.9,614.8 1613.8,538.3 1610.7,462.6 1607.3,387.4" stroke="#1e1c1f" stroke-width="2.6" stroke-dasharray="11 9"/>
<polyline points="1677.1,1338.2 1673.0,1254.3 1669.2,1171.3 1665.7,1089.3 1662.3,1008.1 1659.1,927.8 1656.0,848.4 1652.9,769.7 1649.9,691.8 1646.8,614.7 1643.6,538.4 1640.3,462.7 1636.9,387.7" stroke="#1e1c1f" stroke-width="2.6" stroke-dasharray="11 9"/>
<polyline points="437.7,1331.6 522.0,1329.3 605.3,1327.0 687.7,1324.6 769.2,1322.2 850.0,1319.7 930.1,1317.2 1009.7,1314.8 1088.7,1312.3 1167.4,1310.0 1245.7,1307.7 1323.8,1305.6 1401.8,1303.5 1479.7,1301.6 1557.7,1299.9 1635.7,1298.4 1714.1,1297.2" stroke="#1e1c1f" stroke-width="2.6" stroke-dasharray="11 9"/>
<polyline points="438.1,1290.1 522.3,1288.0 605.5,1285.9 687.7,1283.6 769.1,1281.3 849.8,1278.9 929.7,1276.6 1009.1,1274.2 1088.0,1271.9 1166.5,1269.6 1244.7,1267.4 1322.6,1265.3 1400.4,1263.3 1478.2,1261.4 1556.0,1259.8 1633.9,1258.3 1712.0,1257.0" stroke="#1e1c1f" stroke-width="2.6" stroke-dasharray="11 9"/>
<polyline points="438.5,1248.7 522.6,1246.8 605.7,1244.8 687.8,1242.7 769.0,1240.5 849.6,1238.3 929.4,1236.0 1008.6,1233.8 1087.4,1231.5 1165.7,1229.3 1243.8,1227.2 1321.5,1225.2 1399.2,1223.2 1476.8,1221.4 1554.4,1219.8 1632.1,1218.3 1710.1,1217.1" stroke="#1e1c1f" stroke-width="2.6" stroke-dasharray="11 9"/>
<polyline points="439.0,1207.5 523.0,1205.8 605.9,1203.9 687.9,1202.0 769.0,1199.9 849.4,1197.8 929.1,1195.7 1008.2,1193.5 1086.8,1191.4 1165.0,1189.3 1242.9,1187.2 1320.5,1185.3 1398.0,1183.4 1475.4,1181.6 1552.9,1180.0 1630.4,1178.6 1708.2,1177.3" stroke="#1e1c1f" stroke-width="2.6" stroke-dasharray="11 9"/>
<polyline points="440.1,1125.3 523.8,1124.0 606.5,1122.5 688.2,1120.8 769.1,1119.1 849.2,1117.3 928.6,1115.4 1007.5,1113.5 1085.8,1111.6 1163.7,1109.7 1241.2,1107.8 1318.6,1106.0 1395.7,1104.2 1472.8,1102.6 1549.9,1101.1 1627.2,1099.7 1704.6,1098.5" stroke="#1e1c1f" stroke-width="2.6" stroke-dasharray="11 9"/>
<polyline points="440.7,1084.4 524.3,1083.2 606.8,1081.9 688.5,1080.4 769.2,1078.9 849.2,1077.2 928.5,1075.5 1007.2,1073.7 1085.3,1071.9 1163.1,1070.1 1240.5,1068.3 1317.7,1066.6 1394.7,1064.9 1471.6,1063.3 1548.6,1061.9 1625.6,1060.6 1702.9,1059.4" stroke="#1e1c1f" stroke-width="2.6" stroke-dasharray="11 9"/>
<polyline points="441.3,1043.6 524.8,1042.6 607.2,1041.5 688.7,1040.2 769.3,1038.8 849.2,1037.3 928.3,1035.7 1006.9,1034.0 1084.9,1032.4 1162.5,1030.7 1239.8,1029.0 1316.8,1027.4 1393.6,1025.8 1470.4,1024.3 1547.2,1022.9 1624.1,1021.6 1701.2,1020.5" stroke="#1e1c1f" stroke-width="2.6" stroke-dasharray="11 9"/>
<polyline points="441.9,1002.8 525.3,1002.1 607.6,1001.1 689.0,1000.0 769.5,998.8 849.2,997.5 928.2,996.0 1006.6,994.5 1084.5,993.0 1162.0,991.4 1239.1,989.9 1315.9,988.3 1392.6,986.8 1469.3,985.4 1545.9,984.1 1622.6,982.9 1699.5,981.8" stroke="#1e1c1f" stroke-width="2.6" stroke-dasharray="11 9"/>
<polyline points="443.1,921.7 526.3,921.3 608.4,920.8 689.5,920.1 769.8,919.2 849.3,918.2 928.0,917.1 1006.2,915.9 1083.8,914.7 1160.9,913.4 1237.8,912.0 1314.3,910.7 1390.7,909.5 1467.0,908.2 1543.3,907.1 1619.7,906.0 1696.3,905.1" stroke="#1e1c1f" stroke-width="2.6" stroke-dasharray="11 9"/>
<polyline points="443.8,881.2 526.8,881.1 608.8,880.8 689.8,880.3 770.0,879.6 849.3,878.8 927.9,877.9 1005.9,876.8 1083.4,875.7 1160.5,874.6 1237.1,873.4 1313.6,872.2 1389.8,871.0 1465.9,869.9 1542.1,868.8 1618.3,867.8 1694.7,866.9" stroke="#1e1c1f" stroke-width="2.6" stroke-dasharray="11 9"/>
<polyline points="444.4,840.8 527.4,841.0 609.2,840.9 690.1,840.6 770.1,840.1 849.4,839.5 927.9,838.7 1005.7,837.9 1083.1,836.9 1160.0,835.9 1236.5,834.9 1312.8,833.8 1388.9,832.7 1464.9,831.7 1540.8,830.7 1616.9,829.8 1693.1,829.0" stroke="#1e1c1f" stroke-width="2.6" stroke-dasharray="11 9"/>
<polyline points="445.0,800.6 527.9,800.9 609.6,801.1 690.4,801.0 770.3,800.7 849.4,800.3 927.8,799.7 1005.5,799.0 1082.7,798.2 1159.5,797.4 1235.9,796.5 1312.0,795.6 1388.0,794.6 1463.8,793.7 1539.6,792.8 1615.5,792.0 1691.6,791.3" stroke="#1e1c1f" stroke-width="2.6" stroke-dasharray="11 9"/>
<polyline points="446.2,720.2 528.9,721.1 610.4,721.7 691.0,722.1 770.6,722.3 849.5,722.2 927.6,722.1 1005.1,721.7 1082.0,721.3 1158.5,720.8 1234.6,720.2 1310.5,719.5 1386.1,718.9 1461.7,718.2 1537.2,717.6 1612.8,717.0 1688.5,716.4" stroke="#1e1c1f" stroke-width="2.6" stroke-dasharray="11 9"/>
<polyline points="446.8,680.2 529.3,681.3 610.8,682.2 691.2,682.8 770.8,683.2 849.5,683.4 927.5,683.4 1004.9,683.3 1081.7,683.0 1158.0,682.7 1234.0,682.3 1309.7,681.8 1385.2,681.2 1460.6,680.7 1535.9,680.2 1611.4,679.7 1687.0,679.3" stroke="#1e1c1f" stroke-width="2.6" stroke-dasharray="11 9"/>
<polyline points="447.4,640.2 529.8,641.6 611.1,642.7 691.4,643.6 770.9,644.2 849.5,644.6 927.4,644.9 1004.6,644.9 1081.3,644.9 1157.5,644.7 1233.3,644.4 1308.9,644.1 1384.3,643.7 1459.5,643.3 1534.7,643.0 1610.0,642.6 1685.4,642.3" stroke="#1e1c1f" stroke-width="2.6" stroke-dasharray="11 9"/>
<polyline points="447.9,600.3 530.2,602.0 611.4,603.3 691.6,604.4 771.0,605.3 849.4,606.0 927.2,606.4 1004.3,606.7 1080.9,606.9 1157.0,606.9 1232.7,606.8 1308.1,606.6 1383.3,606.4 1458.4,606.2 1533.4,605.9 1608.6,605.6 1683.8,605.4" stroke="#1e1c1f" stroke-width="2.6" stroke-dasharray="11 9"/>
<polyline points="448.8,520.7 530.9,522.9 611.9,524.8 691.9,526.5 771.0,527.8 849.3,529.0 926.8,529.9 1003.7,530.6 1080.0,531.1 1155.8,531.6 1231.2,531.8 1306.4,532.0 1381.3,532.1 1456.1,532.2 1530.9,532.2 1605.7,532.3 1680.6,532.3" stroke="#1e1c1f" stroke-width="2.6" stroke-dasharray="11 9"/>
<polyline points="449.1,481.0 531.2,483.5 612.1,485.7 692.0,487.6 771.0,489.2 849.1,490.6 926.5,491.7 1003.3,492.7 1079.5,493.5 1155.2,494.1 1230.5,494.6 1305.5,494.9 1380.3,495.2 1454.9,495.5 1529.5,495.6 1604.2,495.8 1679.0,496.0" stroke="#1e1c1f" stroke-width="2.6" stroke-dasharray="11 9"/>
<polyline points="449.5,441.3 531.4,444.1 612.2,446.6 692.0,448.8 770.9,450.7 848.9,452.3 926.2,453.7 1002.9,454.9 1078.9,455.9 1154.5,456.7 1229.7,457.4 1304.5,458.0 1379.2,458.5 1453.7,458.9 1528.2,459.2 1602.7,459.5 1677.3,459.8" stroke="#1e1c1f" stroke-width="2.6" stroke-dasharray="11 9"/>
<polyline points="449.7,401.8 531.6,404.9 612.3,407.6 692.0,410.1 770.8,412.2 848.7,414.1 925.9,415.8 1002.4,417.2 1078.3,418.4 1153.8,419.5 1228.8,420.4 1303.5,421.2 1378.0,421.8 1452.4,422.4 1526.7,422.9 1601.1,423.4 1675.6,423.8" stroke="#1e1c1f" stroke-width="2.6" stroke-dasharray="11 9"/>
</g>
<g fill="none" stroke="#0d0b0e" stroke-linecap="butt">
<polyline points="437.3,1373.2 438.1,1286.6 439.1,1200.6 440.2,1115.1 441.5,1030.0 442.8,945.3 444.1,861.0 445.4,777.1 446.6,693.5 447.7,610.3 448.7,527.3 449.4,444.6 449.9,362.2" stroke-width="6.5"/>
<polyline points="437.3,1373.2 521.3,1370.8 604.2,1368.4 686.2,1365.8 767.4,1363.3 847.8,1360.7 927.6,1358.2 1006.8,1355.6 1085.5,1353.1 1163.9,1350.7 1241.9,1348.4 1319.7,1346.2 1397.3,1344.1 1474.9,1342.2 1552.6,1340.5 1630.4,1339.0 1708.3,1337.7" stroke-width="6.5"/>
<line x1="421.3" y1="1373.2" x2="437.3" y2="1373.2" stroke-width="6.5"/>
<line x1="423.5" y1="1166.3" x2="439.5" y2="1166.3" stroke-width="6.5"/>
<line x1="426.5" y1="962.2" x2="442.5" y2="962.2" stroke-width="6.5"/>
<line x1="429.7" y1="760.4" x2="445.7" y2="760.4" stroke-width="6.5"/>
<line x1="432.3" y1="560.5" x2="448.3" y2="560.5" stroke-width="6.5"/>
<line x1="433.9" y1="362.2" x2="449.9" y2="362.2" stroke-width="6.5"/>
<line x1="437.3" y1="1373.2" x2="437.0" y2="1387.2" stroke-width="6.5"/>
<line x1="604.2" y1="1368.4" x2="603.9" y2="1382.4" stroke-width="6.5"/>
<line x1="767.4" y1="1363.3" x2="767.1" y2="1377.3" stroke-width="6.5"/>
<line x1="927.6" y1="1358.2" x2="927.3" y2="1372.2" stroke-width="6.5"/>
<line x1="1085.5" y1="1353.1" x2="1085.2" y2="1367.1" stroke-width="6.5"/>
<line x1="1241.9" y1="1348.4" x2="1241.6" y2="1362.4" stroke-width="6.5"/>
<line x1="1397.3" y1="1344.1" x2="1397.0" y2="1358.1" stroke-width="6.5"/>
<line x1="1552.6" y1="1340.5" x2="1552.3" y2="1354.5" stroke-width="6.5"/>
<line x1="1708.3" y1="1337.7" x2="1708.0" y2="1351.7" stroke-width="6.5"/>
</g>
<polygon points="854,1249 1026,1248 1026,1311 854,1312" fill="rgb(194,192,187)"/>
<polygon points="1256.7,404.5 1674.4,404.5 1680,554.8 1258.9,556" fill="rgb(218,218,215)" stroke="#111013" stroke-width="3"/>
<g fill="none" stroke="#0e0c10" stroke-width="6" stroke-linejoin="round" stroke-linecap="round">
<path d="M445.0,579.0 C477.5,581.3 582.9,588.9 640.0,592.6 C697.1,596.3 742.8,596.9 787.8,601.0 C832.8,605.1 874.7,611.8 910.0,617.0 C945.3,622.2 976.5,627.5 999.5,632.0 C1022.5,636.5 1029.9,639.8 1048.0,644.1 C1066.1,648.4 1083.9,652.6 1108.2,658.0 C1132.5,663.4 1173.8,672.0 1193.8,676.5 C1213.8,681.0 1214.1,680.4 1228.5,685.0 C1242.9,689.6 1259.2,695.6 1280.0,704.3 C1300.8,713.0 1331.3,726.8 1353.3,737.2 C1375.3,747.6 1393.6,756.4 1411.9,766.6 C1430.2,776.8 1442.6,785.1 1463.2,798.3 C1483.8,811.5 1523.3,838.0 1535.3,845.9"/>
<path d="M445.0,662.6 C477.5,663.5 585.8,665.0 640.0,667.7 C694.2,670.4 723.4,674.2 770.1,679.0 C816.8,683.8 879.1,691.3 920.0,696.7 C960.9,702.1 988.2,706.1 1015.7,711.2 C1043.2,716.3 1063.8,721.6 1085.0,727.4 C1106.2,733.2 1123.6,738.8 1142.9,745.9 C1162.2,753.0 1182.3,761.9 1200.8,770.0 C1219.3,778.1 1237.5,787.3 1254.0,794.5 C1270.5,801.7 1277.8,803.4 1300.0,813.0 C1322.2,822.6 1360.7,837.4 1387.5,852.0 C1414.3,866.6 1448.5,892.8 1460.7,900.9"/>
<path d="M445.0,951.8 C480.1,953.9 600.1,961.2 655.9,964.6 C711.7,968.0 736.0,966.1 780.0,972.3 C824.0,978.5 886.7,993.5 920.0,1002.0 C953.3,1010.5 959.9,1015.4 979.8,1023.2 C999.7,1031.0 1019.6,1040.1 1039.5,1049.1 C1059.4,1058.1 1079.0,1067.5 1099.3,1077.0 C1119.5,1086.5 1150.7,1101.1 1161.0,1105.9"/>
</g>
<g fill="none" stroke="#0e0c10" stroke-width="5.5" stroke-linecap="round">
<path d="M740.5,605.0 L663.7,940.7" stroke-dasharray="16 25.05"/>
<path d="M878.0,625.7 L770.0,949.5" stroke-dasharray="16 24.67"/>
<path d="M1038.8,648.7 C1032.3,672.2 1011.6,748.1 1000.0,790.0 C988.4,831.9 976.8,869.4 969.4,900.0 C962.0,930.6 957.8,957.7 955.9,973.4 C954.0,989.1 955.1,988.7 958.0,994.0 C960.9,999.3 967.2,1003.0 973.0,1005.0 C978.8,1007.0 986.3,1006.9 992.7,1006.3 C999.1,1005.7 1002.1,1003.8 1011.6,1001.3 C1021.1,998.8 1036.5,994.9 1049.5,991.3 C1062.5,987.6 1077.0,985.0 1089.3,979.4 C1101.6,973.8 1111.9,964.5 1123.2,957.5 C1134.5,950.5 1145.9,944.6 1157.0,937.5 C1168.1,930.4 1178.9,921.7 1189.9,914.6 C1200.9,907.5 1211.8,901.7 1222.8,894.7 C1233.8,887.7 1244.6,880.1 1255.7,872.8 C1266.8,865.5 1279.0,857.6 1289.5,850.9 C1300.0,844.2 1308.4,839.6 1319.0,832.5 C1329.6,825.4 1341.8,815.6 1353.0,808.0 C1364.2,800.4 1375.3,793.8 1386.0,787.0 C1396.7,780.2 1411.8,770.3 1417.0,767.0" stroke-dasharray="16 23.58"/>
<path d="M1117.5,662.6 C1107.8,690.0 1068.8,796.4 1059.6,826.9 C1050.3,857.4 1059.7,839.8 1062.0,845.4 C1064.3,851.0 1068.5,856.5 1073.5,860.4 C1078.5,864.2 1085.8,867.5 1092.0,868.5 C1098.2,869.5 1104.3,868.1 1110.5,866.2 C1116.7,864.3 1123.2,859.9 1129.0,857.0 C1134.8,854.1 1136.5,853.1 1145.2,848.9 C1153.9,844.6 1169.2,837.3 1181.0,831.5 C1192.8,825.7 1204.2,819.9 1215.8,814.1 C1227.4,808.3 1238.9,802.8 1250.5,796.8 C1262.1,790.8 1273.6,784.4 1285.2,778.3 C1296.8,772.2 1309.3,765.6 1320.3,760.4 C1331.3,755.2 1345.9,749.2 1351.0,747.0" stroke-dasharray="16 23.29"/>
<path d="M1194.0,679.0 C1195.1,680.9 1198.1,685.4 1200.8,690.4 C1203.5,695.4 1206.5,703.5 1210.0,708.9 C1213.5,714.3 1216.6,719.1 1221.6,722.8 C1226.6,726.5 1233.8,730.1 1240.0,730.9 C1246.2,731.7 1252.0,729.5 1258.6,727.4 C1265.2,725.3 1273.6,720.4 1279.4,718.1 C1285.2,715.8 1291.0,714.3 1293.3,713.5" stroke-dasharray="16 21.67"/>
<path d="M1085.3,1053.0 C1088.3,1051.8 1094.0,1049.8 1103.3,1046.0 C1112.6,1042.2 1128.5,1035.2 1141.0,1030.0 C1153.5,1024.8 1166.0,1020.5 1178.0,1015.0 C1190.0,1009.5 1201.5,1004.1 1212.8,997.3 C1224.1,990.5 1235.2,982.2 1245.7,974.4 C1256.2,966.6 1265.5,959.0 1275.6,950.5 C1285.7,942.0 1296.6,932.3 1306.5,923.6 C1316.4,914.9 1325.4,906.9 1335.0,898.5 C1344.6,890.1 1355.3,880.8 1364.0,873.0 C1372.7,865.2 1376.5,859.8 1387.0,852.0 C1397.5,844.2 1414.7,834.3 1427.0,826.0 C1439.3,817.7 1455.3,806.0 1461.0,802.0" stroke-dasharray="16 23.97"/>
<path d="M1131.0,1086.0 C1133.5,1085.2 1137.7,1084.7 1146.0,1081.0 C1154.3,1077.3 1169.0,1069.7 1181.0,1064.0 C1193.0,1058.3 1205.9,1052.8 1218.0,1047.0 C1230.1,1041.2 1242.0,1034.8 1253.7,1029.0 C1265.5,1023.2 1276.6,1018.1 1288.5,1012.0 C1300.4,1005.9 1313.2,998.4 1325.0,992.5 C1336.8,986.6 1347.8,982.3 1359.4,976.6 C1371.0,970.9 1383.2,964.2 1394.8,958.3 C1406.4,952.4 1417.6,946.9 1429.0,941.2 C1440.4,935.5 1457.5,927.0 1463.2,924.1" stroke-dasharray="16 23.31"/>
</g>
<path d="M683.4,1330.0 C745.5,1328.2 984.0,1321.4 1056.3,1319.3 C1128.6,1317.2 1093.5,1318.9 1117.2,1317.6 C1140.9,1316.3 1178.0,1312.9 1198.5,1311.3 C1219.0,1309.7 1223.4,1308.8 1240.4,1307.8 C1257.5,1306.8 1286.7,1306.1 1300.8,1305.5 C1314.9,1304.9 1315.7,1305.8 1325.2,1304.4 C1334.7,1303.1 1345.8,1299.9 1357.8,1297.4 C1369.8,1294.9 1384.3,1293.0 1397.3,1289.3 C1410.3,1285.6 1423.0,1279.9 1435.6,1275.3 C1448.2,1270.7 1461.2,1267.4 1472.8,1261.4 C1484.4,1255.4 1495.3,1246.1 1505.4,1239.3 C1515.5,1232.5 1528.7,1223.8 1533.3,1220.7" fill="none" stroke="#0e0c10" stroke-width="6" stroke-dasharray="15 25.70" stroke-linecap="round"/>
<text font-family="Liberation Sans, sans-serif" font-size="36.43" font-weight="bold" fill="#141216"  transform="translate(336.5,371.5) rotate(2.619) scale(1.1395,1)">250</text>
<text font-family="Liberation Sans, sans-serif" font-size="34.29" font-weight="bold" fill="#141216"  transform="translate(335.1,573.0) rotate(1.540) scale(1.2400,1)">200</text>
<text font-family="Liberation Sans, sans-serif" font-size="38.57" font-weight="bold" fill="#141216"  transform="translate(333.3,775.7) rotate(0.585) scale(1.0867,1)">150</text>
<text font-family="Liberation Sans, sans-serif" font-size="38.57" font-weight="bold" fill="#141216"  transform="translate(330.7,977.5) rotate(-0.236) scale(1.1066,1)">100</text>
<text font-family="Liberation Sans, sans-serif" font-size="38.86" font-weight="bold" fill="#141216"  transform="translate(350.4,1181.7) rotate(-0.955) scale(1.1234,1)">50</text>
<text font-family="Liberation Sans, sans-serif" font-size="36.43" font-weight="bold" fill="#141216"  transform="translate(369.9,1387.0) rotate(-1.545) scale(1.2599,1)">0</text>
<text font-family="Liberation Sans, sans-serif" font-size="41.43" font-weight="bold" fill="#141216"  transform="translate(424.1,1445.0) rotate(-1.745) scale(1.1180,1)">0</text>
<text font-family="Liberation Sans, sans-serif" font-size="44.00" font-weight="bold" fill="#141216"  transform="translate(567.0,1439.6) rotate(-1.877) scale(0.9759,1)">100</text>
<text font-family="Liberation Sans, sans-serif" font-size="44.14" font-weight="bold" fill="#141216"  transform="translate(731.6,1434.2) rotate(-1.945) scale(0.9332,1)">200</text>
<text font-family="Liberation Sans, sans-serif" font-size="44.00" font-weight="bold" fill="#141216"  transform="translate(893.8,1428.7) rotate(-1.942) scale(0.9276,1)">300</text>
<text font-family="Liberation Sans, sans-serif" font-size="40.43" font-weight="bold" fill="#141216"  transform="translate(1051.0,1422.3) rotate(-1.865) scale(1.0293,1)">400</text>
<text font-family="Liberation Sans, sans-serif" font-size="44.14" font-weight="bold" fill="#141216"  transform="translate(1210.2,1419.7) rotate(-1.713) scale(0.9161,1)">500</text>
<text font-family="Liberation Sans, sans-serif" font-size="40.57" font-weight="bold" fill="#141216"  transform="translate(1367.3,1414.6) rotate(-1.482) scale(0.9999,1)">600</text>
<text font-family="Liberation Sans, sans-serif" font-size="44.29" font-weight="bold" fill="#141216"  transform="translate(1521.9,1412.0) rotate(-1.181) scale(0.9189,1)">700</text>
<text font-family="Liberation Sans, sans-serif" font-size="44.14" font-weight="bold" fill="#141216"  transform="translate(1677.0,1409.4) rotate(-0.814) scale(0.9161,1)">800</text>
<text font-family="Liberation Sans, sans-serif" font-size="40.57" font-weight="bold" fill="#141216"  transform="translate(1039.7,1486.8) rotate(-1.924) scale(0.9961,1)">GPM</text>
<text font-family="Liberation Sans, sans-serif" font-size="39.86" font-weight="bold" fill="#141216"  transform="translate(1737.8,1149.5) rotate(-0.706) scale(0.9553,1)">50</text>
<text font-family="Liberation Sans, sans-serif" font-size="39.86" font-weight="bold" fill="#141216"  transform="translate(1739.2,1189.1) rotate(-0.713) scale(0.9418,1)">40</text>
<text font-family="Liberation Sans, sans-serif" font-size="39.86" font-weight="bold" fill="#141216"  transform="translate(1741.6,1228.7) rotate(-0.711) scale(0.9508,1)">30</text>
<text font-family="Liberation Sans, sans-serif" font-size="39.86" font-weight="bold" fill="#141216"  transform="translate(1743.0,1268.3) rotate(-0.706) scale(0.9600,1)">20</text>
<text font-family="Liberation Sans, sans-serif" font-size="41.14" font-weight="bold" fill="#141216"  transform="translate(1744.6,1308.8) rotate(-0.694) scale(0.9746,1)">10</text>
<text font-family="Liberation Sans, sans-serif" font-size="39.86" font-weight="bold" fill="#141216"  transform="translate(1747.1,1348.4) rotate(-0.707) scale(1.0458,1)">0</text>
<text font-family="Liberation Sans, sans-serif" font-size="30.43" font-weight="bold" fill="#141216"  transform="translate(876.6,1291.6) rotate(-1.733) scale(0.9162,1)">NPSH-R</text>
<text font-family="Liberation Sans, sans-serif" font-size="35.36" font-weight="bold" fill="#141216" transform="translate(312.7,964.7) rotate(-88.888) scale(1.1580,1)">Head (feet)</text>
<text font-family="Liberation Sans, sans-serif" font-size="37.83" font-weight="bold" fill="#141216" transform="translate(1858.6,1364.2) rotate(-93.284) scale(0.9461,1)">NPSH-R (FT)</text>
<text font-family="Liberation Sans, sans-serif" font-size="30.34" font-weight="bold" fill="#141216"  transform="translate(1272.7,443.5) rotate(0.345) scale(0.9013,1)">Design Speed 1750 RPM</text>
<text font-family="Liberation Sans, sans-serif" font-size="29.93" font-weight="bold" fill="#141216"  transform="translate(1273.7,480.2) rotate(0.218) scale(0.9040,1)">Suction line size 4 inch</text>
<text font-family="Liberation Sans, sans-serif" font-size="29.93" font-weight="bold" fill="#141216"  transform="translate(1274.2,519.2) rotate(0.077) scale(0.9043,1)">Discharge line size 3 inch</text>
<text font-family="Liberation Sans, sans-serif" font-size="45.52" font-weight="normal" fill="#1c1a1e"  transform="translate(463.8,549.3) rotate(1.238) scale(0.9965,1)">13.5 inch</text>
<text font-family="Liberation Sans, sans-serif" font-size="46.07" font-weight="normal" fill="#1c1a1e"  transform="translate(467.3,715.3) rotate(0.404) scale(0.9986,1)">12.875 inch</text>
<text font-family="Liberation Sans, sans-serif" font-size="44.28" font-weight="normal" fill="#1c1a1e"  transform="translate(484.0,1000.6) rotate(-0.653) scale(1.0542,1)">10 inch</text>
<text font-family="Liberation Sans, sans-serif" font-size="34.39" font-weight="normal" fill="#1c1a1e"  transform="translate(703.8,578.5) rotate(0.720) scale(0.9698,1)">55%</text>
<text font-family="Liberation Sans, sans-serif" font-size="34.14" font-weight="normal" fill="#1c1a1e"  transform="translate(858.4,572.8) rotate(0.464) scale(0.9437,1)">65%</text>
<text font-family="Liberation Sans, sans-serif" font-size="31.29" font-weight="normal" fill="#1c1a1e"  transform="translate(1018.6,608.2) rotate(0.077) scale(1.0816,1)">72%</text>
<text font-family="Liberation Sans, sans-serif" font-size="33.24" font-weight="normal" fill="#1c1a1e"  transform="translate(1136.7,625.6) rotate(-0.115) scale(0.9442,1)">74%</text>
<text font-family="Liberation Sans, sans-serif" font-size="31.65" font-weight="normal" fill="#1c1a1e"  transform="translate(1206.1,669.6) rotate(-0.317) scale(0.9914,1)">75%</text>
<text font-family="Liberation Sans, sans-serif" font-size="33.53" font-weight="normal" fill="#1c1a1e"  transform="translate(1300.4,704.3) rotate(-0.462) scale(0.9315,1)">75%</text>
<text font-family="Liberation Sans, sans-serif" font-size="33.38" font-weight="normal" fill="#1c1a1e"  transform="translate(1367.6,727.5) rotate(-0.532) scale(0.9355,1)">74%</text>
<text font-family="Liberation Sans, sans-serif" font-size="33.14" font-weight="normal" fill="#1c1a1e"  transform="translate(1422.5,760.4) rotate(-0.603) scale(0.9627,1)">72%</text>
<text font-family="Liberation Sans, sans-serif" font-size="34.86" font-weight="normal" fill="#1c1a1e"  transform="translate(1476.2,794.6) rotate(-0.654) scale(0.9333,1)">70%</text>
<text font-family="Liberation Sans, sans-serif" font-size="33.14" font-weight="normal" fill="#1c1a1e"  transform="translate(1450.6,976.6) rotate(-0.992) scale(0.9816,1)">65%</text>
</svg></body></html>
